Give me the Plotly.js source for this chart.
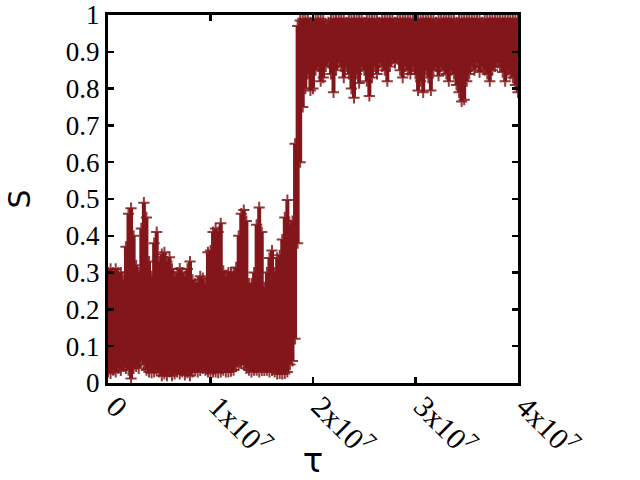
<!DOCTYPE html>
<html>
<head>
<meta charset="utf-8">
<script src="https://cdn.plot.ly/plotly-3.0.1.min.js"></script>
<style>html,body{margin:0;padding:0;background:#fff;}#plot{width:640px;height:480px;}</style>
</head>
<body>
<div id="plot"></div>
<script>
// tau sample positions, in units of 1e6
var tauM = [0,0.25,0.5,0.75,1,1.25,1.5,1.75,2,2.25,2.5,2.75,3,3.25,3.5,3.75,4,4.25,4.5,4.75,
5,5.25,5.5,5.75,6,6.25,6.5,6.75,7,7.25,7.5,7.75,8,8.25,8.5,8.75,9,9.25,9.5,9.75,
10,10.25,10.5,10.75,11,11.25,11.5,11.75,12,12.25,12.5,12.75,13,13.25,13.5,13.75,14,14.25,14.5,14.75,
15,15.25,15.5,15.75,16,16.25,16.5,16.75,17,17.25,17.5,17.75,18,18.25,18.5,18.75,19,19.25,19.5,19.75,
20,20.25,20.5,20.75,21,21.25,21.5,21.75,22,22.25,22.5,22.75,23,23.25,23.5,23.75,24,24.25,24.5,24.75,
25,25.25,25.5,25.75,26,26.25,26.5,26.75,27,27.25,27.5,27.75,28,28.25,28.5,28.75,29,29.25,29.5,29.75,
30,30.25,30.5,30.75,31,31.25,31.5,31.75,32,32.25,32.5,32.75,33,33.25,33.5,33.75,34,34.25,34.5,34.75,
35,35.25,35.5,35.75,36,36.25,36.5,36.75,37,37.25,37.5,37.75,38,38.25,38.5,38.75,39,39.25,39.5,39.75,40];

// upper envelope of S at each tau sample
var sHigh = [0.30,0.31,0.30,0.31,0.30,0.30,0.28,0.37,0.46,0.475,
0.40,0.32,0.30,0.42,0.49,0.45,0.33,0.29,0.38,0.41,
0.33,0.35,0.355,0.33,0.342,0.31,0.29,0.30,0.311,0.30,
0.29,0.31,0.33,0.28,0.27,0.273,0.29,0.285,0.27,0.355,
0.36,0.41,0.42,0.41,0.434,0.305,0.29,0.30,0.30,0.30,
0.314,0.40,0.46,0.47,0.44,0.27,0.27,0.30,0.43,0.477,
0.41,0.26,0.30,0.34,0.36,0.30,0.34,0.347,0.39,0.45,
0.497,0.43,0.44,0.65,0.97,0.985,0.99,0.985,0.99,0.98,
0.985,0.99,0.985,0.99,0.985,0.975,0.98,0.985,0.99,0.985,
0.99,0.985,0.99,0.98,0.985,0.99,0.985,0.99,0.985,0.99,
0.98,0.985,0.99,0.985,0.99,0.985,0.98,0.99,0.985,0.99,
0.985,0.99,0.98,0.985,0.99,0.985,0.99,0.985,0.99,0.985,
0.98,0.985,0.99,0.985,0.99,0.985,0.99,0.985,0.98,0.985,
0.99,0.985,0.99,0.985,0.99,0.985,0.98,0.985,0.99,0.985,
0.99,0.985,0.99,0.985,0.99,0.985,0.98,0.985,0.99,0.985,
0.99,0.985,0.99,0.985,0.99,0.985,0.99,0.985,0.99,0.985,0.99];

// lower envelope of S at each tau sample
var sLow = [0.03,0.026,0.035,0.03,0.04,0.034,0.045,0.04,0.035,0.012,
0.04,0.045,0.04,0.06,0.05,0.035,0.03,0.028,0.03,0.035,
0.03,0.02,0.025,0.02,0.03,0.02,0.025,0.03,0.025,0.03,
0.022,0.028,0.02,0.03,0.035,0.03,0.034,0.04,0.035,0.03,
0.026,0.03,0.03,0.028,0.03,0.035,0.03,0.03,0.032,0.035,
0.045,0.05,0.053,0.05,0.04,0.035,0.03,0.035,0.035,0.03,
0.034,0.034,0.035,0.03,0.034,0.03,0.025,0.026,0.025,0.026,
0.03,0.05,0.06,0.12,0.38,0.60,0.75,0.80,0.84,0.795,
0.80,0.85,0.86,0.82,0.83,0.86,0.87,0.84,0.79,0.85,
0.87,0.86,0.83,0.86,0.84,0.80,0.775,0.84,0.815,0.86,
0.85,0.82,0.78,0.83,0.86,0.84,0.87,0.86,0.85,0.82,
0.86,0.88,0.87,0.88,0.85,0.83,0.86,0.85,0.84,0.86,
0.84,0.795,0.82,0.79,0.85,0.83,0.795,0.85,0.86,0.835,
0.86,0.85,0.84,0.82,0.85,0.84,0.81,0.79,0.765,0.77,
0.82,0.84,0.86,0.85,0.87,0.845,0.86,0.85,0.84,0.82,
0.85,0.86,0.87,0.86,0.845,0.82,0.85,0.84,0.83,0.81,0.79];

var xTickVals = [0, 10, 20, 30, 40];
var xTickText = ['0', '1x10<sup>7</sup>', '2x10<sup>7</sup>', '3x10<sup>7</sup>', '4x10<sup>7</sup>'];
var yTickVals = [0, 0.1, 0.2, 0.3, 0.4, 0.5, 0.6, 0.7, 0.8, 0.9, 1];
var yTickText = ['0', '0.1', '0.2', '0.3', '0.4', '0.5', '0.6', '0.7', '0.8', '0.9', '1'];

var col = '#82161a';

// vertical spans between envelopes
var segX = [], segY = [], ptX = [], ptY = [];
for (var i = 0; i < tauM.length; i++) {
  segX.push(tauM[i], tauM[i], null);
  segY.push(sLow[i], sHigh[i], null);
  ptX.push(tauM[i], tauM[i]);
  ptY.push(sLow[i], sHigh[i]);
}

var traces = [
  {x: segX, y: segY, type: 'scatter', mode: 'lines',
   line: {color: col, width: 4}, hoverinfo: 'skip', showlegend: false},
  {x: ptX, y: ptY, type: 'scatter', mode: 'markers',
   marker: {symbol: 'cross-thin', size: 8, color: col,
            line: {color: 'rgba(130,22,26,0.85)', width: 2}},
   showlegend: false}
];

var serif = 'Liberation Serif, Times New Roman, serif';
var layout = {
  width: 640, height: 480,
  margin: {l: 108, r: 122, t: 15, b: 97},
  paper_bgcolor: '#fff', plot_bgcolor: '#fff',
  showlegend: false,
  xaxis: {
    range: [0, 40], tickmode: 'array', tickvals: xTickVals, ticktext: xTickText,
    tickangle: 45, tickfont: {family: serif, size: 30, color: '#000'},
    ticklabelshift: 7, ticklabelstandoff: -9,
    ticks: 'inside', ticklen: 6, tickwidth: 2.5, tickcolor: '#000',
    showline: true, linewidth: 3, linecolor: '#000', mirror: 'allticks',
    showgrid: false, zeroline: false,
    title: {text: 'τ', font: {family: 'DejaVu Sans, sans-serif', size: 34, color: '#000'}, standoff: 0}
  },
  yaxis: {
    range: [0, 1], tickmode: 'array', tickvals: yTickVals, ticktext: yTickText,
    tickfont: {family: serif, size: 27, color: '#000'},
    ticks: 'inside', ticklen: 6, tickwidth: 2.5, tickcolor: '#000',
    showline: true, linewidth: 3, linecolor: '#000', mirror: 'allticks',
    showgrid: false, zeroline: false,
    title: {text: 'S', font: {family: 'DejaVu Sans, sans-serif', size: 30, color: '#000'}, standoff: 27}
  }
};

Plotly.newPlot('plot', traces, layout, {staticPlot: true, displayModeBar: false});
</script>
</body>
</html>
